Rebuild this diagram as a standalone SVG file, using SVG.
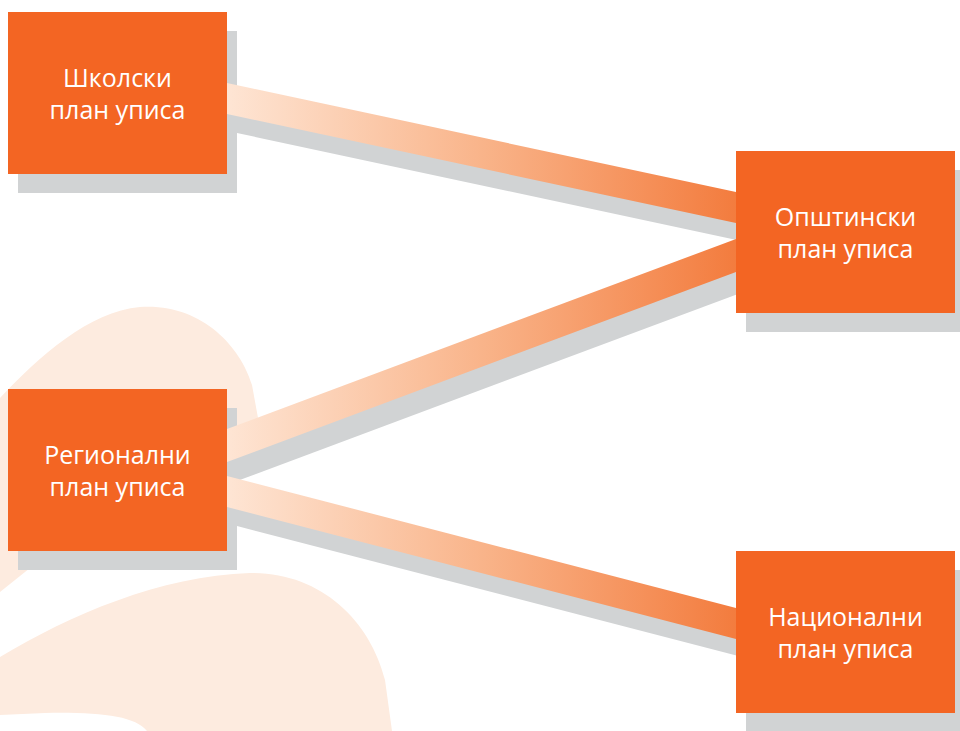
<svg xmlns="http://www.w3.org/2000/svg" width="960" height="731" viewBox="0 0 960 731">
<defs>
<linearGradient id="bandGrad" gradientUnits="userSpaceOnUse" x1="227" y1="0" x2="736" y2="0">
<stop offset="0" stop-color="#fee5d4"/>
<stop offset="0.5" stop-color="#f9b48a"/>
<stop offset="1" stop-color="#f37c3e"/>
</linearGradient>
<style>
.blob{fill:#fdebdf}
.shadow{fill:#d1d3d4}
.band{fill:url(#bandGrad)}
.box{fill:#f36523}
.label{font-family:"Open Sans","Noto Sans",sans-serif;font-size:25px;fill:#ffffff;text-anchor:middle}
</style>
</defs>
<rect width="960" height="731" fill="#ffffff"/>
<g id="background">
<path class="blob" d="M-20,420 C20,375 80,312 140,307 C200,303 240,345 252,385 L258,418 L240,460 L200,540 L30,568 L0,592 L-20,600 Z"/>
<path class="blob" d="M0,657 C70,615 160,576 250,573 C320,572 370,620 385,680 L392,731 L147,731 C135,716 100,712 45,713 L0,715 Z"/>
</g>
<g id="box-shadows">
<rect class="shadow" x="18" y="31" width="219" height="162"/>
<rect class="shadow" x="746" y="170" width="219" height="162"/>
<rect class="shadow" x="18" y="408" width="219" height="162"/>
<rect class="shadow" x="746" y="570" width="219" height="162"/>
</g>
<g id="connectors">
<g transform="translate(10,19)">
<polygon class="shadow" points="227,83 736,192 736,223 227,114"/>
<polygon class="shadow" points="227,429 736,239 736,272 227,462"/>
<polygon class="shadow" points="227,476 736,608 736,639 227,507"/>
</g>
<polygon class="band" points="227,83 736,192 736,223 227,114"/>
<polygon class="band" points="227,429 736,239 736,272 227,462"/>
<polygon class="band" points="227,476 736,608 736,639 227,507"/>
</g>
<g id="node-skolski">
<rect class="box" x="8" y="12" width="219" height="162"/>
<text class="label" x="117.5" y="87">Школски</text>
<text class="label" x="117.5" y="119">план уписа</text>
</g>
<g id="node-opstinski">
<rect class="box" x="736" y="151" width="219" height="162"/>
<text class="label" x="845.5" y="226">Општински</text>
<text class="label" x="845.5" y="258">план уписа</text>
</g>
<g id="node-regionalni">
<rect class="box" x="8" y="389" width="219" height="162"/>
<text class="label" x="117.5" y="464">Регионални</text>
<text class="label" x="117.5" y="496">план уписа</text>
</g>
<g id="node-nacionalni">
<rect class="box" x="736" y="551" width="219" height="162"/>
<text class="label" x="845.5" y="626">Национални</text>
<text class="label" x="845.5" y="658">план уписа</text>
</g>
</svg>
